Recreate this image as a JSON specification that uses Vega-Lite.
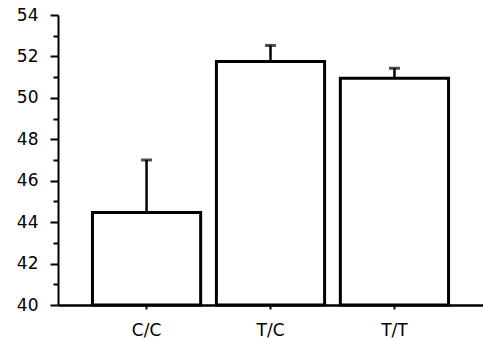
{
  "$schema": "https://vega.github.io/schema/vega-lite/v6.json",
  "autosize": "none",
  "width": 425,
  "height": 290,
  "padding": {"left": 58, "top": 15, "right": 0, "bottom": 35},
  "background": "white",
  "config": {
    "view": {"stroke": null},
    "font": "DejaVu Sans",
    "axis": {"grid": false, "title": null, "domainColor": "black", "tickColor": "black", "labelColor": "black", "domainWidth": 2, "tickWidth": 2, "labelFont": "DejaVu Sans"}
  },
  "data": {
    "values": [
      {"genotype": "C/C", "value": 44.46, "upper": 47.0},
      {"genotype": "T/C", "value": 51.75, "upper": 52.53},
      {"genotype": "T/T", "value": 50.95, "upper": 51.43}
    ]
  },
  "encoding": {
    "x": {
      "field": "genotype", "type": "nominal", "sort": null,
      "scale": {"paddingInner": 0.127, "paddingOuter": 0.278},
      "axis": {"labelAngle": 0, "labelFontSize": 17, "labelPadding": 13, "tickSize": 4, "domainWidth": 2.5}
    }
  },
  "layer": [
    {
      "mark": {"type": "bar", "fill": "white", "stroke": "black", "strokeWidth": 3},
      "encoding": {
        "y": {"field": "value", "type": "quantitative", "scale": {"domain": [40, 54], "nice": false, "zero": false},
          "axis": {"values": [40, 42, 44, 46, 48, 50, 52, 54], "tickSize": 8, "labelFontSize": 17, "labelPadding": 12}},
        "y2": {"datum": 40}
      }
    },
    {
      "mark": {"type": "rule", "stroke": "black", "strokeWidth": 2.5},
      "encoding": {
        "y": {"field": "value", "type": "quantitative", "axis": {"orient": "left", "values": [41, 43, 45, 47, 49, 51, 53], "tickSize": 5, "labels": false, "domain": false}},
        "y2": {"field": "upper"}
      }
    },
    {
      "mark": {"type": "tick", "color": "black", "thickness": 3, "size": 11},
      "encoding": {
        "y": {"field": "upper", "type": "quantitative", "axis": null}
      }
    }
  ],
  "resolve": {"axis": {"y": "independent"}}
}
